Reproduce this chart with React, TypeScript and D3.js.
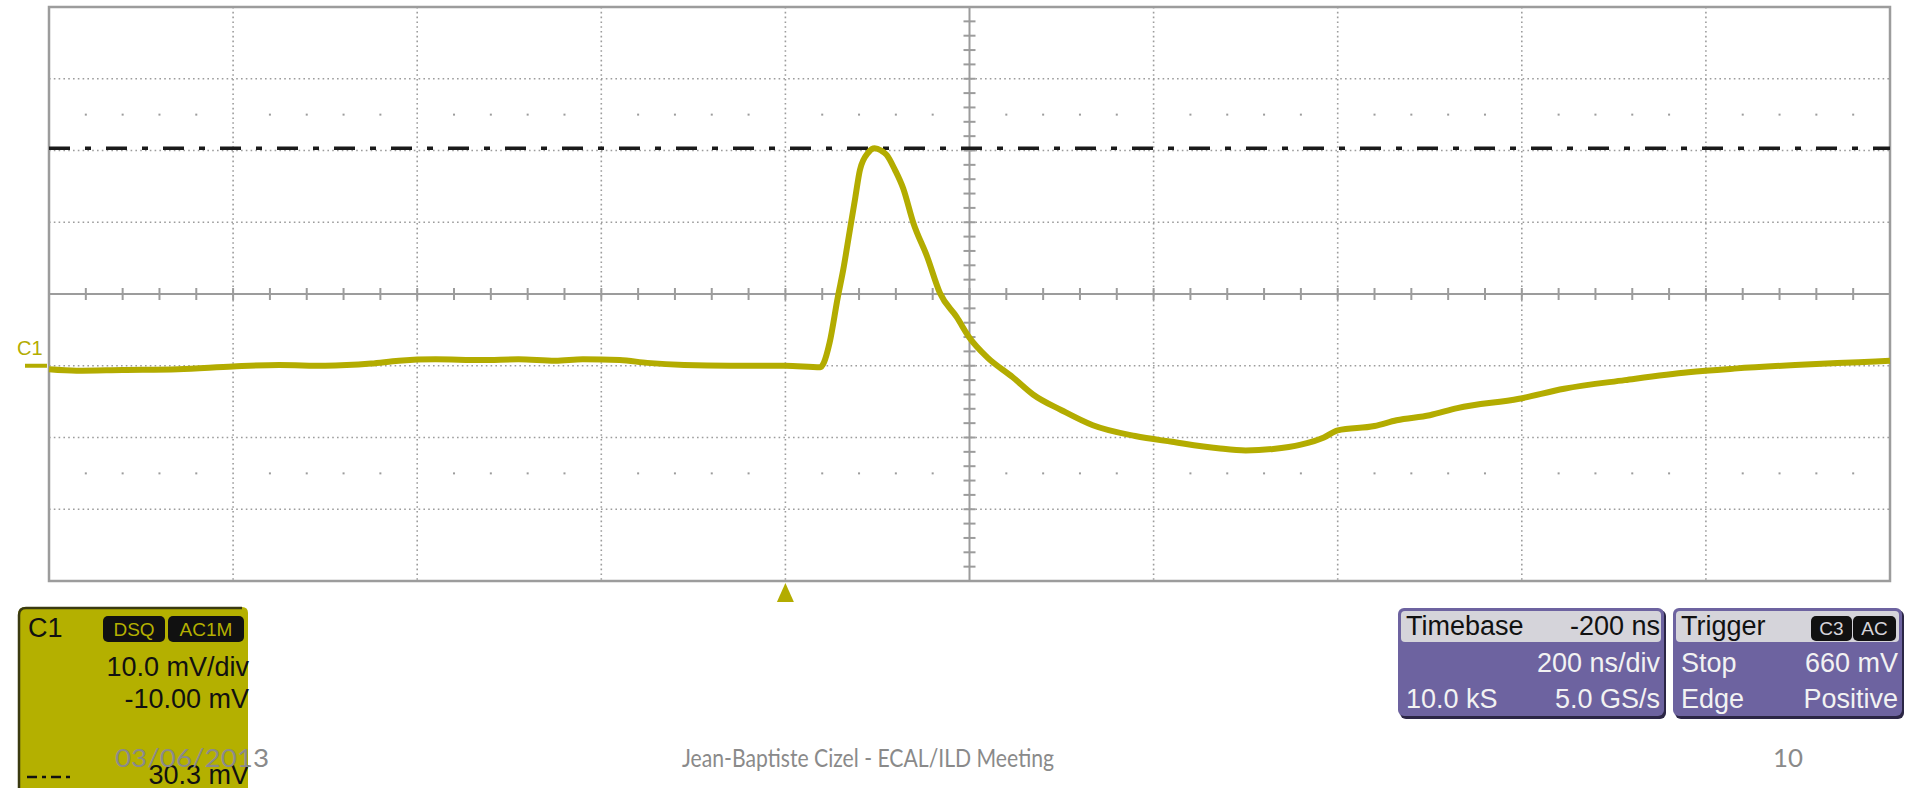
import React from "react";
import * as d3 from "d3";

// Channel C1 trace: time relative to trigger (ns) and voltage (mV)
const timeNs = [
  -800, -770, -720, -660, -600, -550, -500, -450, -420, -380, -330, -290, -250, -220,
  -180, -150, -110, -60, 0, 38, 42, 48, 57, 63, 70, 76, 81, 90, 97, 104, 110, 119, 128,
  139, 154, 168, 186, 200, 219, 247, 269, 300, 334, 380, 420, 470, 500, 530, 560, 585,
  600, 640, 664, 700, 730, 797, 846, 912, 981, 1031, 1097, 1166, 1200,
];
const voltsMv = [
  -0.5, -0.7, -0.6, -0.5, -0.1, 0.1, 0.0, 0.3, 0.7, 0.9, 0.8, 0.9, 0.7, 0.9,
  0.8, 0.4, 0.1, 0.0, 0.0, -0.2, 0.5, 3.2, 9.6, 13.5, 18.9, 23.5, 27.3, 29.7, 30.3, 30.0, 29.4, 27.3, 24.7,
  19.9, 15.2, 10.1, 6.8, 3.9, 1.2, -1.6, -4.0, -6.2, -8.3, -9.8, -10.6, -11.5, -11.8, -11.6, -11.0, -10.0,
  -9.0, -8.4, -7.6, -6.9, -5.9, -4.6, -3.2, -2.0, -0.9, -0.4, 0.1, 0.5, 0.7,
];

// Screen settings
const timeDomain = [-800, 1200]; // 200 ns/div, 10 divisions
const voltDomain = [-30, 50]; // 10 mV/div, 8 divisions, offset -10 mV
const cursorMv = 30.3;
const triggerNs = 0;

// Readout boxes
const channelLines = ["10.0 mV/div", "-10.00 mV"];
const channelBadges = ["DSQ", "AC1M"];
const timebaseRows = [
  ["Timebase", "-200 ns"],
  ["", "200 ns/div"],
  ["10.0 kS", "5.0 GS/s"],
];
const triggerRows = [
  ["Trigger", ""],
  ["Stop", "660 mV"],
  ["Edge", "Positive"],
];
const triggerBadges = ["C3", "AC"];
const footerDate = "03/06/2013";
const footerTitle = "Jean-Baptiste Cizel - ECAL/ILD Meeting";
const footerPage = "10";

const TRACE = "#b3ac00";
const BOX_OLIVE = "#b4b000";
const PURPLE = "#6d63a0";
const GRID = "#9c9c9c";
const LCD_FONT = "'Liberation Sans', Arial, sans-serif";

export default function App() {
  const W = 1905;
  const H = 788;
  const x = d3.scaleLinear().domain(timeDomain).range([49, 1890]);
  const y = d3.scaleLinear().domain(voltDomain).range([581, 7]);

  const majorT = d3.range(timeDomain[0], timeDomain[1] + 1, 200);
  const majorV = d3.range(voltDomain[0], voltDomain[1] + 1, 10);
  const minorT = d3.range(timeDomain[0], timeDomain[1] + 1, 40);
  const minorV = d3.range(voltDomain[0], voltDomain[1] + 0.1, 2);
  const centerT = (timeDomain[0] + timeDomain[1]) / 2;
  const centerV = (voltDomain[0] + voltDomain[1]) / 2;
  const dotRowsV = [centerV - 25, centerV + 25];

  const pts: [number, number][] = timeNs.map((t, i) => [t, voltsMv[i]]);
  const line = d3
    .line<[number, number]>()
    .x((d) => x(d[0]))
    .y((d) => y(d[1]))
    .curve(d3.curveMonotoneX);

  const [x0, x1] = x.range();
  const [yb, yt] = y.range();

  const badge = (bx: number, by: number, w: number, h: number, label: string, color: string, key: string) => (
    <g key={key}>
      <rect x={bx} y={by} width={w} height={h} rx={5} fill="#111" />
      <text
        x={bx + w / 2}
        y={by + h / 2}
        dy="0.36em"
        fill={color}
        fontSize={19}
        textAnchor="middle"
        fontFamily={LCD_FONT}
      >
        {label}
      </text>
    </g>
  );

  const purpleBox = (bx: number, w: number, rows: string[][], key: string, badges?: string[]) => (
    <g key={key}>
      <rect x={bx + 2} y={610} width={w} height={109} rx={6} fill="#2b2645" />
      <rect x={bx} y={608} width={w} height={108} rx={6} fill={PURPLE} />
      <rect x={bx + 3} y={611} width={w - 6} height={31} rx={4} fill="#d5d4da" />
      {rows.map((r, i) => {
        const by = 635 + i * 36.5;
        const col = i === 0 ? "#111" : "#f2f2f2";
        return (
          <g key={i}>
            <text x={bx + 8} y={by} fontSize={27} fill={col} fontFamily={LCD_FONT}>
              {r[0]}
            </text>
            <text x={bx + w - 4} y={by} fontSize={27} fill={col} textAnchor="end" fontFamily={LCD_FONT}>
              {r[1]}
            </text>
          </g>
        );
      })}
      {badges &&
        badges.map((b, i) => {
          const widths = [41, 43];
          const starts = [bx + w - 91, bx + w - 49];
          return badge(starts[i], 616, widths[i], 25, b, "#d5d4da", "b" + i);
        })}
    </g>
  );

  return (
    <svg width={W} height={H} style={{ position: "absolute", left: 0, top: 0, background: "#fff" }}>
      {/* dotted graticule */}
      <g stroke={GRID} strokeWidth={1.6} strokeDasharray="1.6 3.2">
        {majorT
          .filter((t) => t !== centerT && t !== timeDomain[0] && t !== timeDomain[1])
          .map((t) => (
            <line key={"vt" + t} x1={x(t)} x2={x(t)} y1={yt} y2={yb} />
          ))}
        {majorV
          .filter((v) => v !== centerV && v !== voltDomain[0] && v !== voltDomain[1])
          .map((v) => (
            <line key={"hv" + v} x1={x0} x2={x1} y1={y(v)} y2={y(v)} />
          ))}
      </g>
      {/* dot rows at +-2.5 div */}
      <g fill={GRID}>
        {dotRowsV.map((v) =>
          minorT
            .filter((t) => (t - timeDomain[0]) % 200 !== 0)
            .map((t) => <rect key={"d" + v + "_" + t} x={x(t) - 1} y={y(v) - 1} width={2} height={2} />)
        )}
      </g>
      {/* center axes with minor ticks */}
      <g stroke={GRID} strokeWidth={2}>
        <line x1={x(centerT)} x2={x(centerT)} y1={yt} y2={yb} />
        <line x1={x0} x2={x1} y1={y(centerV)} y2={y(centerV)} />
        {minorV.map((v) => (
          <line key={"tv" + v} x1={x(centerT) - 6} x2={x(centerT) + 6} y1={y(v)} y2={y(v)} />
        ))}
        {minorT.map((t) => (
          <line key={"tt" + t} x1={x(t)} x2={x(t)} y1={y(centerV) - 6} y2={y(centerV) + 6} />
        ))}
      </g>
      {/* frame */}
      <rect x={x0} y={yt} width={x1 - x0} height={yb - yt} fill="none" stroke={GRID} strokeWidth={2.5} />

      {/* reference cursor */}
      <line
        x1={x0}
        x2={x1}
        y1={y(cursorMv)}
        y2={y(cursorMv)}
        stroke="#1a1a1a"
        strokeWidth={3.5}
        strokeDasharray="21 15 6 15"
      />

      {/* trace */}
      <path d={line(pts) || ""} fill="none" stroke={TRACE} strokeWidth={6} strokeLinejoin="round" />

      {/* channel ground marker */}
      <text x={17} y={355} fill={TRACE} fontSize={20} fontFamily={LCD_FONT}>
        C1
      </text>
      <line x1={25} x2={47} y1={y(0)} y2={y(0)} stroke={TRACE} strokeWidth={4} />

      {/* trigger position marker */}
      <path
        d={`M${x(triggerNs)},${yb + 2} L${x(triggerNs) + 8.5},${yb + 21} L${x(triggerNs) - 8.5},${yb + 21} Z`}
        fill={TRACE}
      />

      {/* channel readout */}
      <g>
        <path d="M18,800 L18,615 Q18,607 26,607 L242,607 Q248,607 248,613 L248,800 Z" fill={BOX_OLIVE} />
        <path d="M19,800 L19,615 Q19,608 26,608 L242,608" fill="none" stroke="#3a3a10" strokeWidth={2.5} />
        <text x={28} y={637} fontSize={27} fill="#111" fontFamily={LCD_FONT}>
          C1
        </text>
        {badge(103, 616, 62, 26, channelBadges[0], BOX_OLIVE, "dsq")}
        {badge(168, 616, 76, 26, channelBadges[1], BOX_OLIVE, "ac1m")}
        {channelLines.map((s, i) => (
          <text key={s} x={249} y={676 + i * 32} fontSize={27} fill="#111" textAnchor="end" fontFamily={LCD_FONT}>
            {s}
          </text>
        ))}
        <line x1={27} x2={75} y1={777} y2={777} stroke="#111" strokeWidth={2.5} strokeDasharray="10 5 4 5" />
        <text x={249} y={784} fontSize={27} fill="#111" textAnchor="end" fontFamily={LCD_FONT}>
          {cursorMv.toFixed(1)} mV
        </text>
      </g>

      {purpleBox(1398, 266, timebaseRows, "tb")}
      {purpleBox(1673, 229, triggerRows, "tr", triggerBadges)}

      {/* slide footer */}
      <g fill="#8a8a8a" fontFamily="Lato, 'Open Sans', sans-serif" fontSize={25}>
        <text x={115} y={767} textLength={154} lengthAdjust="spacingAndGlyphs">
          {footerDate}
        </text>
        <text x={682} y={767} textLength={372} lengthAdjust="spacingAndGlyphs">
          {footerTitle}
        </text>
        <text x={1773} y={767} textLength={30} lengthAdjust="spacingAndGlyphs">
          {footerPage}
        </text>
      </g>
    </svg>
  );
}
